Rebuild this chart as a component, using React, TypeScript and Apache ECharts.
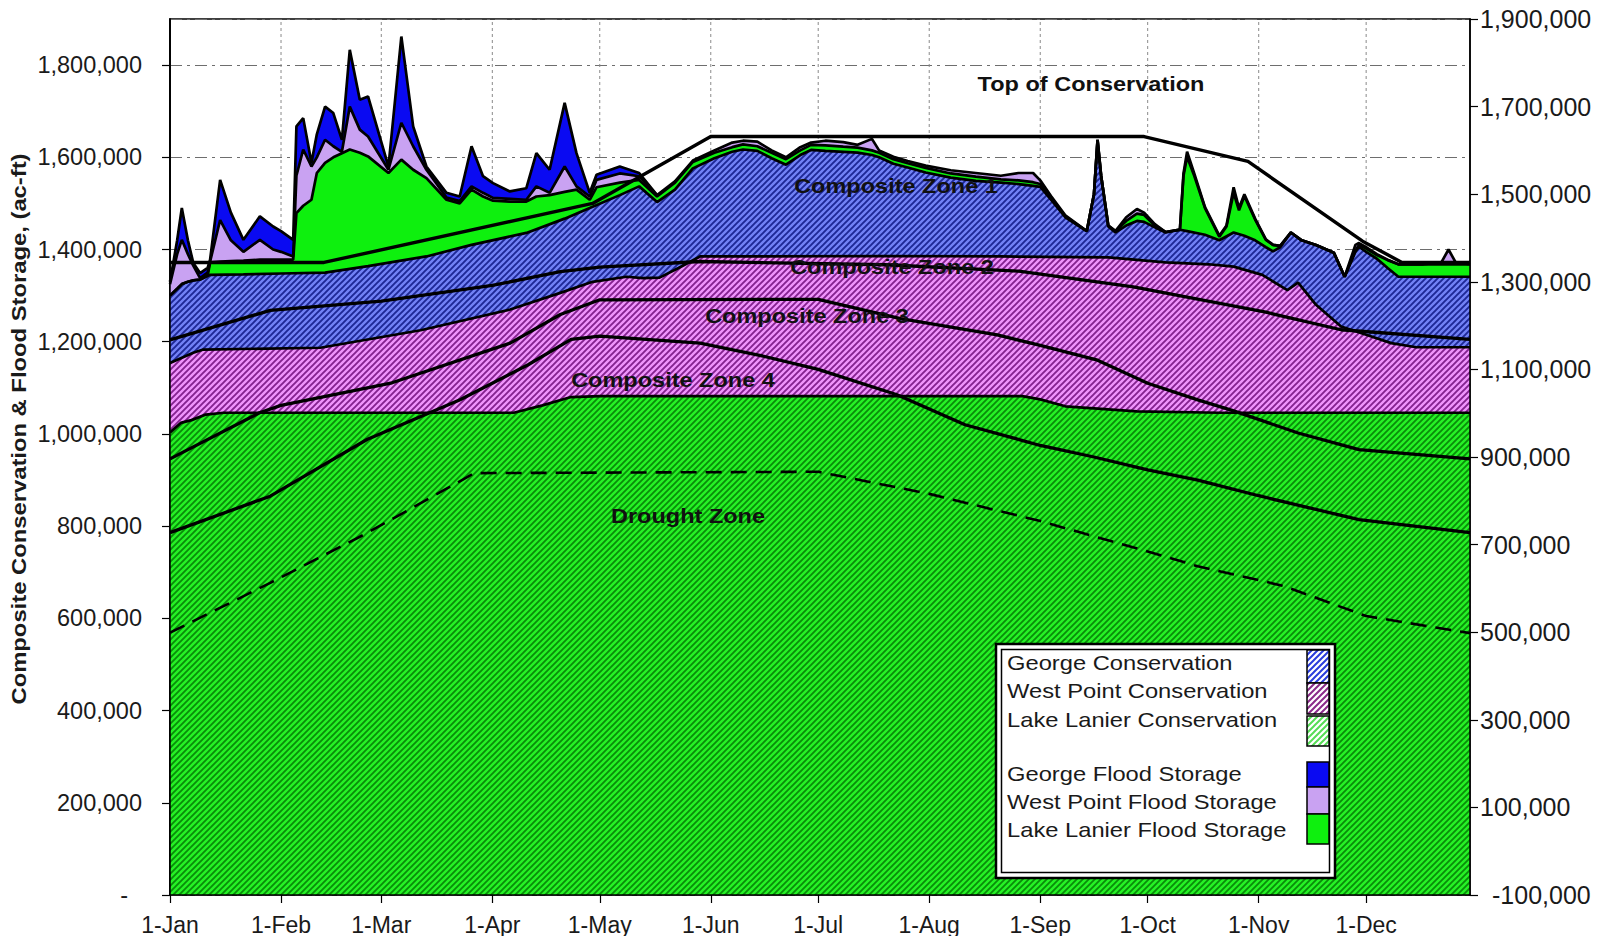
import React, { useEffect, useRef } from 'react';
import * as echarts from 'echarts';

// ---------- axis data ----------
const MONTH_DAYS = [0, 31, 59, 90, 120, 151, 181, 212, 243, 273, 304, 334];
const MONTH_LABELS = ['1-Jan', '1-Feb', '1-Mar', '1-Apr', '1-May', '1-Jun', '1-Jul', '1-Aug', '1-Sep', '1-Oct', '1-Nov', '1-Dec'];

// ---------- stacked storage tops (day of year, acre-feet) ----------
const georgeFloodTop: [number, number][] = [
  [0, 1330000], [2, 1420000], [3.3, 1490000], [5, 1420000], [6.5, 1371000], [8.4, 1349000], [10.5, 1360000],
  [11.2, 1378000], [14, 1551000], [17, 1480000], [20.5, 1421000], [25.1, 1472000], [28.8, 1450000], [31, 1440000],
  [34.4, 1421000], [35.3, 1667000], [37.2, 1685000], [39.5, 1588000], [41, 1650000], [43.3, 1710000], [45.6, 1696000],
  [48, 1638000], [50.2, 1833000], [53, 1725000], [55.3, 1732000], [61, 1580000], [64.6, 1862000], [67.9, 1667000],
  [71.6, 1580000], [77.2, 1523000], [80.9, 1515000], [84.2, 1624000], [87.4, 1559000], [90.2, 1544000], [94.9, 1526000],
  [99.5, 1533000], [102.3, 1609000], [106, 1573000], [110.2, 1718000], [113.5, 1609000], [117.2, 1523000],
  [119.1, 1562000], [125.6, 1580000], [131, 1566000], [136, 1518000]
];

const westPointFloodTop: [number, number][] = [
  [0, 1325000], [2, 1390000], [3.3, 1421000], [5, 1390000], [6.5, 1365000], [8.4, 1338000], [10.5, 1350000],
  [11.2, 1374000], [14, 1464000], [17, 1420000], [20.5, 1395000], [25.1, 1421000], [28.8, 1400000], [31, 1395000],
  [34.4, 1385000], [35.3, 1560000], [37.2, 1617000], [39.5, 1580000], [41, 1600000], [43.3, 1638000], [45.6, 1624000],
  [48, 1612000], [50.2, 1710000], [53, 1660000], [55.3, 1645000], [61, 1573000], [64.6, 1675000], [67.9, 1624000],
  [71.6, 1573000], [77.2, 1513000], [80.9, 1505000], [84.2, 1537000], [87.4, 1523000], [90.2, 1512000], [94.9, 1510000],
  [99.5, 1508000], [102.3, 1537000], [106, 1523000], [110.2, 1580000], [113.5, 1537000], [117.2, 1515000],
  [119.1, 1551000], [125.6, 1565000], [131, 1559000], [136, 1518000], [141, 1548000], [146, 1593000], [152, 1615000],
  [157, 1632000], [160, 1636000], [164, 1634000], [168, 1615000], [172, 1600000], [176, 1622000], [179, 1632000],
  [183, 1636000], [188, 1633000], [192, 1627000], [196, 1640000], [198, 1615000], [202, 1601000], [206, 1592000],
  [211, 1582000], [218, 1572000], [225, 1566000], [232, 1560000], [237, 1566000], [241, 1566000], [243, 1550000],
  [246, 1516000], [250, 1474000], [256, 1440000], [258, 1520000], [259, 1638000], [260, 1560000], [262, 1452000],
  [264, 1440000], [267, 1470000], [270, 1488000], [272, 1480000], [275, 1455000], [278, 1438000], [282, 1443000],
  [283, 1565000], [284, 1612000], [286, 1565000], [289, 1492000], [293, 1430000], [295, 1452000], [297, 1535000],
  [298.5, 1490000], [300, 1520000], [303, 1467000], [306, 1422000], [308, 1410000], [310, 1408000], [313, 1437000],
  [316, 1420000], [320, 1410000], [325, 1393000], [328, 1341000], [331, 1410000], [332, 1414000], [334, 1405000],
  [337, 1390000], [340, 1378000], [343, 1368000], [350, 1368000], [355, 1372000], [357, 1400000], [359, 1372000],
  [363, 1368000]
];

const lanierFloodTop: [number, number][] = [
  [0, 1300000], [2, 1315000], [3.3, 1325000], [5, 1330000], [6.5, 1333000], [8.4, 1335000], [10.5, 1343000],
  [11.2, 1372000], [14, 1374000], [17, 1375000], [20.5, 1376000], [25.1, 1378000], [34.4, 1378000], [35.3, 1479000],
  [37.2, 1495000], [39.5, 1508000], [41, 1566000], [43.3, 1588000], [45.6, 1600000], [48, 1609000], [50.2, 1617000],
  [53, 1610000], [55.3, 1602000], [61, 1566000], [64.6, 1595000], [67.9, 1573000], [71.6, 1555000], [77.2, 1508000],
  [80.9, 1500000], [84.2, 1530000], [87.4, 1515000], [90.2, 1506000], [94.9, 1504000], [99.5, 1504000],
  [102.3, 1515000], [106, 1518000], [110.2, 1525000], [113.5, 1530000], [117.2, 1508000], [119.1, 1535000],
  [125.6, 1545000], [131, 1551000], [136, 1515000], [141, 1545000], [146, 1590000], [152, 1610000], [157, 1622000],
  [160, 1628000], [164, 1624000], [168, 1610000], [172, 1596000], [176, 1615000], [179, 1627000], [183, 1626000],
  [188, 1623000], [192, 1621000], [196, 1615000], [198, 1610000], [202, 1596000], [206, 1587000], [211, 1577000],
  [218, 1565000], [225, 1558000], [232, 1552000], [237, 1550000], [241, 1546000], [243, 1542000], [246, 1512000],
  [250, 1472000], [256, 1440000], [258, 1520000], [259, 1638000], [260, 1560000], [262, 1452000], [264, 1440000],
  [267, 1462000], [270, 1478000], [272, 1475000], [275, 1452000], [278, 1438000], [282, 1443000], [283, 1560000],
  [284, 1601000], [286, 1560000], [289, 1490000], [293, 1428000], [295, 1450000], [297, 1523000], [298.5, 1485000],
  [300, 1516000], [303, 1465000], [306, 1421000], [308, 1410000], [310, 1408000], [313, 1437000], [316, 1420000],
  [320, 1410000], [325, 1393000], [328, 1341000], [331, 1398000], [332, 1410000], [334, 1402000], [337, 1388000],
  [340, 1377000], [343, 1368000], [363, 1368000]
];

const georgeConsTop: [number, number][] = [
  [0, 1300000], [2, 1315000], [3.3, 1325000], [5, 1330000], [6.5, 1333000], [8.4, 1335000], [10.5, 1343000],
  [11.2, 1345000], [20.5, 1346000], [31, 1348000], [43.3, 1350000], [55.3, 1364000], [71.6, 1385000], [84.2, 1410000],
  [99.5, 1436000], [110.2, 1467000], [117.2, 1490000], [125.6, 1518000], [131, 1537000], [136, 1503000],
  [141, 1530000], [146, 1576000], [152, 1598000], [157, 1612000], [160, 1617000], [164, 1614000], [168, 1598000],
  [172, 1584000], [176, 1605000], [179, 1616000], [183, 1614000], [188, 1612000], [192, 1610000], [196, 1605000],
  [198, 1600000], [202, 1586000], [206, 1578000], [211, 1567000], [218, 1556000], [225, 1549000], [232, 1545000],
  [237, 1542000], [241, 1538000], [243, 1536000], [246, 1508000], [250, 1470000], [256, 1440000], [258, 1520000],
  [259, 1638000], [260, 1560000], [262, 1450000], [264, 1437000], [267, 1452000], [270, 1462000], [272, 1460000],
  [275, 1448000], [278, 1437000], [282, 1443000], [284, 1440000], [289, 1432000], [293, 1420000], [297, 1437000],
  [300, 1430000], [303, 1420000], [306, 1405000], [308, 1396000], [310, 1405000], [313, 1437000], [316, 1420000],
  [320, 1410000], [325, 1393000], [328, 1341000], [331, 1395000], [332, 1406000], [334, 1395000], [337, 1380000],
  [340, 1360000], [343, 1341000], [363, 1341000]
];

const westPointConsTop: [number, number][] = [
  [0, 1154000], [6.5, 1176000], [9.3, 1183000], [42, 1187000], [70, 1225000], [95, 1270000], [109, 1306000],
  [118, 1330000], [127.5, 1341000], [132, 1338000], [136.7, 1339000], [142, 1360000], [148, 1385000], [200, 1386000],
  [232, 1385000], [262, 1383000], [278, 1372000], [290, 1368000], [297, 1363000], [305, 1345000], [312, 1312000],
  [315, 1328000], [320, 1280000], [327, 1233000], [334, 1215000], [341, 1197000], [348, 1188000], [363, 1188000]
];

const lanierConsTop: [number, number][] = [
  [0, 1003000], [3, 1024000], [6, 1030000], [10, 1042000], [15, 1046000], [96, 1046000], [104, 1062000],
  [112, 1080000], [120, 1082000], [238, 1082000], [243, 1075000], [250, 1060000], [270, 1049000], [293, 1046000],
  [363, 1046000]
];

// ---------- rule curves ----------
const zone2Line: [number, number][] = [
  [0, 1204000], [28, 1268000], [59, 1288000], [90, 1322000], [109, 1352000], [120, 1362000], [148, 1374000],
  [200, 1367000], [237, 1353000], [269, 1319000], [306, 1264000], [327, 1226000], [363, 1205000]
];
const zone3Line: [number, number][] = [
  [0, 946000], [25, 1046000], [31, 1062000], [62, 1111000], [95, 1197000], [109, 1259000], [120, 1291000],
  [181, 1292000], [204, 1250000], [231, 1215000], [243, 1192000], [259, 1160000], [273, 1110000], [287, 1074000],
  [297, 1050000], [315, 1002000], [332, 966000], [363, 946000]
];
const zone4Line: [number, number][] = [
  [0, 786000], [28, 865000], [55, 988000], [81, 1074000], [100, 1150000], [112, 1205000], [120, 1212000],
  [148, 1197000], [165, 1170000], [181, 1140000], [203, 1085000], [222, 1020000], [243, 975000], [258, 950000],
  [273, 922000], [287, 900000], [304, 866000], [332, 814000], [363, 786000]
];
const droughtLine: [number, number][] = [
  [0, 569000], [28, 677000], [55, 785000], [85, 915000], [181, 918000], [212, 870000], [243, 811000],
  [273, 745000], [287, 713000], [304, 683000], [311, 670000], [334, 605000], [363, 568000]
];
const topOfConservation: [number, number][] = [
  [0, 1372000], [43, 1372000], [118, 1500000], [151, 1645000], [272, 1645000], [301, 1591000], [333, 1418000],
  [344, 1372000], [363, 1372000]
];

const FONT = '"Liberation Sans", Arial, sans-serif';

function hatch(bg: string, fg: string, size = 6, lw = 2.0) {
  const c = document.createElement('canvas');
  c.width = size;
  c.height = size;
  const ctx = c.getContext('2d')!;
  ctx.fillStyle = bg;
  ctx.fillRect(0, 0, size, size);
  ctx.strokeStyle = fg;
  ctx.lineWidth = lw;
  ctx.beginPath();
  for (const o of [-size, 0, size]) {
    ctx.moveTo(o - 1, size + 1);
    ctx.lineTo(o + size + 1, -1);
  }
  ctx.stroke();
  return { image: c, repeat: 'repeat', imageWidth: size, imageHeight: size } as any;
}

const fmtLeft = (v: number) => (v === 0 ? '{z|-}' : Math.round(v).toLocaleString('en-US'));
const fmtRight = (v: number) => {
  const s = Math.round(v - 100000).toLocaleString('en-US');
  return v - 100000 < 0 ? `{n|${s}}` : s;
};

export default function App() {
  const ref = useRef<HTMLDivElement>(null);

  useEffect(() => {
    if (!ref.current) return;
    const chart = echarts.init(ref.current, null, { renderer: 'svg' });

    const blueHatch = hatch('#7282f6', '#1e2896', 6, 1.9);
    const magentaHatch = hatch('#f094fc', '#84228f', 6, 1.9);
    const greenHatch = hatch('#26f226', '#0a8c0a', 6, 1.8);
    const legBlue = hatch('#ffffff', '#2a3cdc', 6, 2);
    const legMagenta = hatch('#ffffff', '#8a2a8a', 6, 2);
    const legGreen = hatch('#ffffff', '#55dd55', 6, 2);

    const area = (name: string, data: [number, number][], fill: any) => ({
      name,
      type: 'line',
      data,
      symbol: 'none',
      silent: true,
      lineStyle: { color: '#000', width: 2.7 },
      areaStyle: { color: fill, opacity: 1 },
      z: 2
    });
    const rule = (name: string, data: [number, number][], width = 3.3, dash?: number[]) => ({
      name,
      type: 'line',
      data,
      symbol: 'none',
      silent: true,
      lineStyle: { color: '#000', width, type: dash ? dash : 'solid' },
      z: 3
    });

    const legendRows = [
      { t: 'George Conservation', y: 663 },
      { t: 'West Point Conservation', y: 691 },
      { t: 'Lake Lanier Conservation', y: 720 },
      { t: 'George Flood Storage', y: 774 },
      { t: 'West Point Flood Storage', y: 802 },
      { t: 'Lake Lanier Flood Storage', y: 830 }
    ];
    const swatches = [
      { y: 650, h: 33, fill: legBlue },
      { y: 683, h: 31, fill: legMagenta },
      { y: 716, h: 30, fill: legGreen },
      { y: 762, h: 25, fill: '#0a0af2' },
      { y: 787, h: 27, fill: '#c9a2f2' },
      { y: 814, h: 30, fill: '#0ef00e' }
    ];

    const annotations = [
      { t: 'Top of Conservation', x: 1091, y: 84 },
      { t: 'Composite Zone 1', x: 896, y: 186 },
      { t: 'Composite Zone 2', x: 892, y: 267 },
      { t: 'Composite Zone 3', x: 807, y: 316 },
      { t: 'Composite Zone 4', x: 673, y: 380 },
      { t: 'Drought Zone', x: 688, y: 516 }
    ];

    const option: any = {
      animation: false,
      textStyle: { fontFamily: FONT },
      grid: {
        left: 170, right: 133, top: 19, bottom: 40.5,
        show: true, borderColor: '#000', borderWidth: 1.5, backgroundColor: 'rgba(0,0,0,0)'
      },
      xAxis: {
        type: 'value', min: 0, max: 363, z: 10,
        axisLine: { show: true, onZero: false, lineStyle: { color: '#000', width: 1.5 } },
        axisTick: { show: true, customValues: MONTH_DAYS, length: 8, lineStyle: { color: '#000', width: 1.2 } },
        axisLabel: {
          customValues: MONTH_DAYS,
          formatter: (v: number) => MONTH_LABELS[MONTH_DAYS.indexOf(v)] ?? '',
          fontSize: 23, color: '#1a1a1a', margin: 18, fontFamily: FONT
        },
        splitLine: { show: false }
      },
      yAxis: [
        {
          type: 'value', min: 0, max: 1900000, interval: 200000, position: 'left',
          axisLine: { show: true, lineStyle: { color: '#000', width: 1.5 } },
          axisTick: { show: true, length: 8, lineStyle: { color: '#000', width: 1.2 } },
          axisLabel: {
            formatter: fmtLeft, fontSize: 23.5, color: '#1a1a1a', margin: 28, fontFamily: FONT,
            showMaxLabel: false,
            rich: { z: { fontSize: 23.5, fontFamily: FONT, color: '#1a1a1a', padding: [0, 14, 0, 0] } }
          },
          splitLine: { show: true, lineStyle: { color: '#6e6e6e', width: 1, type: [12, 5, 3, 5] } }
        },
        {
          type: 'value', min: 0, max: 2000000, interval: 200000, position: 'right', z: 10,
          axisLine: { show: true, lineStyle: { color: '#000', width: 1.5 } },
          axisTick: { show: true, length: 8, lineStyle: { color: '#000', width: 1.2 } },
          axisLabel: {
            formatter: fmtRight, fontSize: 25, color: '#1a1a1a', margin: 10, fontFamily: FONT,
            rich: { n: { fontSize: 25, fontFamily: FONT, color: '#1a1a1a', padding: [0, 0, 0, 12] } }
          },
          splitLine: { show: false }
        },
        {
          type: 'value', min: 0, max: 1900000, position: 'left', z: 10,
          axisLine: { show: true, lineStyle: { color: '#000', width: 1.5 } },
          axisTick: { show: false }, axisLabel: { show: false }, splitLine: { show: false }
        }
      ],
      series: [
        {
          type: 'custom', z: 1, silent: true,
          data: MONTH_DAYS.slice(1).map((d) => [d, 0]),
          renderItem: (_p: any, api: any) => {
            const d = api.value(0);
            const a = api.coord([d, 0]);
            const b = api.coord([d, 1900000]);
            return {
              type: 'line',
              shape: { x1: a[0], y1: a[1], x2: b[0], y2: b[1] },
              style: { stroke: '#8a8a8a', lineWidth: 1, lineDash: [3, 3] }
            };
          }
        },
        area('George Flood Storage', georgeFloodTop, '#0a0af2'),
        area('West Point Flood Storage', westPointFloodTop, '#c9a2f2'),
        area('Lake Lanier Flood Storage', lanierFloodTop, '#0ef00e'),
        area('George Conservation', georgeConsTop, blueHatch),
        area('West Point Conservation', westPointConsTop, magentaHatch),
        area('Lake Lanier Conservation', lanierConsTop, greenHatch),
        rule('Composite Zone 2 line', zone2Line),
        rule('Composite Zone 3 line', zone3Line),
        rule('Composite Zone 4 line', zone4Line),
        rule('Drought line', droughtLine, 2.6, [16, 9]),
        rule('Top of Conservation', topOfConservation, 3.4)
      ],
      graphic: [
        {
          type: 'text', x: 19, y: 429, rotation: Math.PI / 2, scaleX: 1.19, z: 100,
          style: {
            text: 'Composite Conservation & Flood Storage, (ac-ft)',
            font: `bold 20px ${FONT}`, fill: '#1a1a1a', align: 'center', verticalAlign: 'middle'
          }
        },
        ...annotations.map((a) => ({
          type: 'text', x: a.x, y: a.y, scaleX: 1.12, z: 100,
          style: { text: a.t, font: `bold 21px ${FONT}`, fill: '#111', align: 'center', verticalAlign: 'middle' }
        })),
        {
          type: 'rect', z: 100,
          shape: { x: 996, y: 644, width: 339, height: 234 },
          style: { fill: '#fff', stroke: '#000', lineWidth: 2.5 }
        },
        {
          type: 'rect', z: 101,
          shape: { x: 1001.5, y: 649.5, width: 328, height: 223 },
          style: { fill: 'none', stroke: '#000', lineWidth: 1.5 }
        },
        ...legendRows.map((r) => ({
          type: 'text', x: 1007, y: r.y, scaleX: 1.13, z: 102,
          style: { text: r.t, font: `21px ${FONT}`, fill: '#1a1a1a', align: 'left', verticalAlign: 'middle' }
        })),
        ...swatches.map((s) => ({
          type: 'rect', z: 102,
          shape: { x: 1307, y: s.y, width: 22, height: s.h },
          style: { fill: s.fill, stroke: '#000', lineWidth: 1.5 }
        }))
      ]
    };

    chart.setOption(option);
    return () => chart.dispose();
  }, []);

  return (
    <div
      ref={ref}
      style={{ position: 'fixed', left: 0, top: 0, width: 1603, height: 936, background: '#fff' }}
    />
  );
}
